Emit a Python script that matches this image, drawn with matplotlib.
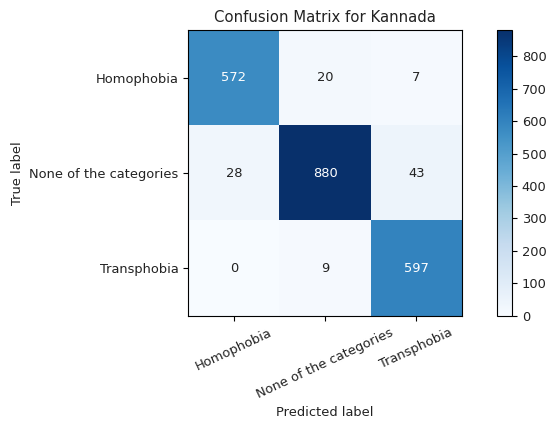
import numpy as np
import matplotlib.pyplot as plt

classes = ["Homophobia", "None of the categories", "Transphobia"]
cm = np.array([[572, 20, 7],
               [28, 880, 43],
               [0, 9, 597]])

fig = plt.figure(figsize=(5.5, 4.23), dpi=100)
ax = fig.add_axes([0.342, 0.253, 0.498, 0.676])
cax = fig.add_axes([0.904, 0.253, 0.027, 0.676])

im = ax.imshow(cm, interpolation='nearest', cmap=plt.cm.Blues, aspect='auto')
ax.set_title("Confusion Matrix for Kannada", fontsize=10.7, color='#222222')
cb = fig.colorbar(im, cax=cax)
cb.set_ticks(np.arange(0, 900, 100))
cb.ax.tick_params(labelsize=9.4, labelcolor='#222222')

ticks = np.arange(len(classes))
ax.set_xticks(ticks)
ax.set_xticklabels(classes, rotation=25, fontsize=9.4, color='#222222')
ax.set_yticks(ticks)
ax.set_yticklabels(classes, fontsize=9.4, color='#222222')

thresh = cm.max() / 2.0
for i in range(cm.shape[0]):
    for j in range(cm.shape[1]):
        ax.text(j, i, format(cm[i, j], 'd'), ha="center", va="center",
                fontsize=9.4, color="white" if cm[i, j] > thresh else "#222222")

ax.set_ylabel("True label", fontsize=9.4, color='#222222')
ax.set_xlabel("Predicted label", fontsize=9.4, color='#222222')

fig.savefig("out.png")
